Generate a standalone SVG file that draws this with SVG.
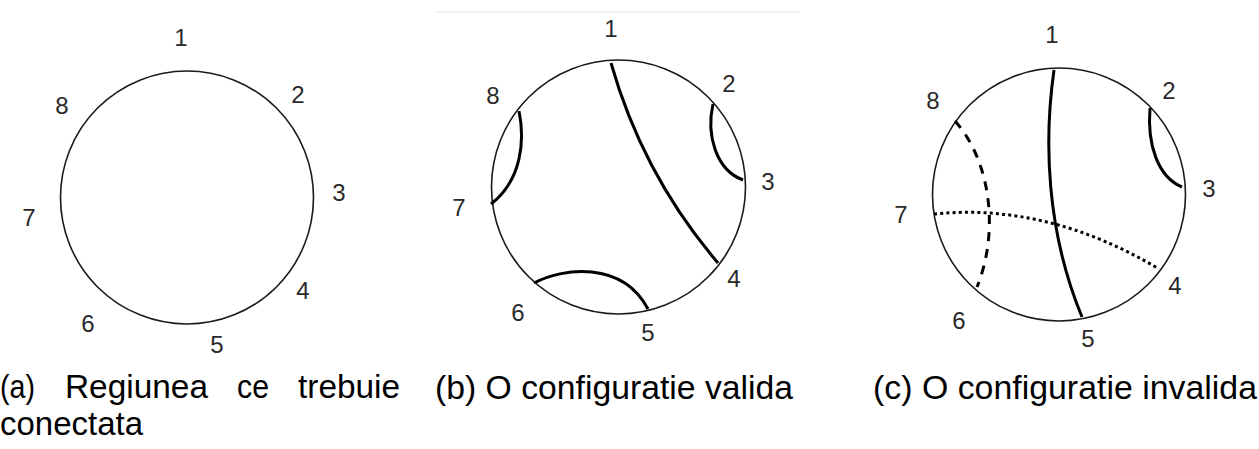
<svg xmlns="http://www.w3.org/2000/svg" width="1259" height="449" viewBox="0 0 1259 449">
<style>
  .ring{fill:none;stroke:#1a1a1a;stroke-width:1.6}
  .num{font-family:"Liberation Sans",Arial,sans-serif;font-size:24px;fill:#2a2a2a;text-anchor:middle}
  .cap{font-family:"Liberation Sans",Arial,sans-serif;font-size:34px;fill:#000}
  .chord{fill:none;stroke:#000;stroke-width:3;stroke-linecap:butt}
  .dash{stroke-dasharray:9 8}
  .dot{stroke-dasharray:3 3.2}
</style>
<rect width="1259" height="449" fill="#fff"/>
<line x1="437" y1="12" x2="800" y2="12" stroke="#f0f0f0" stroke-width="2"/>

<!-- Panel (a) -->
<g id="panel-a">
  <g id="ring-a"><circle class="ring" cx="187" cy="197.5" r="126.5"/></g>
  <g id="labels-a">
    <text class="num" x="181" y="46">1</text>
    <text class="num" x="298" y="103">2</text>
    <text class="num" x="339" y="201">3</text>
    <text class="num" x="303" y="299">4</text>
    <text class="num" x="217" y="353">5</text>
    <text class="num" x="88" y="332">6</text>
    <text class="num" x="29" y="226">7</text>
    <text class="num" x="62" y="114">8</text>
  </g>
  <g id="caption-a">
    <text class="cap" x="0" y="398" textLength="35" lengthAdjust="spacingAndGlyphs">(a)</text>
    <text class="cap" x="65" y="398" textLength="143" lengthAdjust="spacingAndGlyphs">Regiunea</text>
    <text class="cap" x="237" y="398" textLength="32" lengthAdjust="spacingAndGlyphs">ce</text>
    <text class="cap" x="298" y="398" textLength="102" lengthAdjust="spacingAndGlyphs">trebuie</text>
    <text class="cap" x="0" y="435" textLength="143" lengthAdjust="spacingAndGlyphs">conectata</text>
  </g>
</g>

<!-- Panel (b) -->
<g id="panel-b">
  <g id="ring-b"><circle class="ring" cx="618.5" cy="187" r="127"/></g>
  <g id="labels-b">
    <text class="num" x="611" y="37">1</text>
    <text class="num" x="729" y="92">2</text>
    <text class="num" x="768" y="190">3</text>
    <text class="num" x="734" y="287">4</text>
    <text class="num" x="648" y="341">5</text>
    <text class="num" x="518" y="321">6</text>
    <text class="num" x="459" y="216">7</text>
    <text class="num" x="493" y="104">8</text>
  </g>
  <g id="connectors-b">
    <path class="chord" d="M611,63 Q642.7,174.7 718,263"/>
    <path class="chord" d="M519,111 C525,140 522,180 491,204"/>
    <path class="chord" d="M713,104 C706,135 716,170 743,180"/>
    <path class="chord" d="M534,283 C562,268 622,260 648,309"/>
  </g>
  <g id="caption-b">
    <text class="cap" x="435" y="399" textLength="358" lengthAdjust="spacingAndGlyphs">(b) O configuratie valida</text>
  </g>
</g>

<!-- Panel (c) -->
<g id="panel-c">
  <g id="ring-c"><circle class="ring" cx="1059" cy="194.5" r="126.5"/></g>
  <g id="labels-c">
    <text class="num" x="1052" y="43">1</text>
    <text class="num" x="1169" y="99">2</text>
    <text class="num" x="1209" y="197">3</text>
    <text class="num" x="1175" y="294">4</text>
    <text class="num" x="1088" y="347">5</text>
    <text class="num" x="959" y="329">6</text>
    <text class="num" x="901" y="223">7</text>
    <text class="num" x="933" y="109">8</text>
  </g>
  <g id="connectors-c">
    <path class="chord" d="M1054,70 C1044,140 1046,230 1082,317"/>
    <path class="chord" d="M1150,108 C1147,145 1158,177 1182,187"/>
    <path class="chord dash" d="M955,121 C990,160 1000,230 977,287"/>
    <path class="chord dot" d="M934,214 Q1047.5,202.5 1159,269"/>
  </g>
  <g id="caption-c">
    <text class="cap" x="873" y="399" textLength="384" lengthAdjust="spacingAndGlyphs">(c) O configuratie invalida</text>
  </g>
</g>
</svg>
